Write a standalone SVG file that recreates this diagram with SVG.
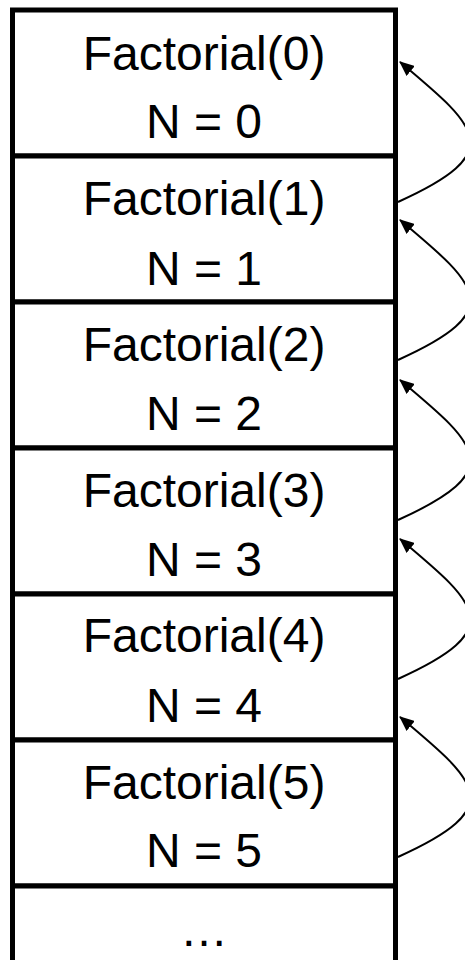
<svg xmlns="http://www.w3.org/2000/svg" width="465" height="960" viewBox="0 0 465 960">
<style>
.box{fill:#fff;stroke:#000;stroke-width:5}
.t{font-family:"Liberation Sans",Arial,sans-serif;font-size:48px;fill:#000;text-anchor:middle}
.c{fill:none;stroke:#000;stroke-width:2}
</style>
<defs>
<marker id="ah" markerUnits="userSpaceOnUse" markerWidth="15" markerHeight="13" viewBox="0 0 15 13" refX="14" refY="6.5" orient="auto">
<path d="M0,0 L15,6.5 L0,13 Z" fill="#000"/>
</marker>
</defs>
<g id="frame0"><rect class="box" x="12.5" y="10" width="383" height="146"/><text class="t" x="204" y="70">Factorial(0)</text><text class="t" x="204" y="138">N = 0</text></g>
<g id="frame1"><rect class="box" x="12.5" y="156" width="383" height="146"/><text class="t" x="204" y="215">Factorial(1)</text><text class="t" x="204" y="285">N = 1</text></g>
<g id="frame2"><rect class="box" x="12.5" y="302" width="383" height="146"/><text class="t" x="204" y="361">Factorial(2)</text><text class="t" x="204" y="430">N = 2</text></g>
<g id="frame3"><rect class="box" x="12.5" y="448" width="383" height="146"/><text class="t" x="204" y="506.5">Factorial(3)</text><text class="t" x="204" y="576">N = 3</text></g>
<g id="frame4"><rect class="box" x="12.5" y="594" width="383" height="146"/><text class="t" x="204" y="652">Factorial(4)</text><text class="t" x="204" y="722">N = 4</text></g>
<g id="frame5"><rect class="box" x="12.5" y="740" width="383" height="146"/><text class="t" x="204" y="798.5">Factorial(5)</text><text class="t" x="204" y="867">N = 5</text></g>
<g id="frameMore"><rect class="box" x="12.5" y="886" width="383" height="146"/><text class="t" x="204" y="946">…</text></g>
<g id="connectors">
<path class="c" marker-end="url(#ah)" d="M398,202 C509,152 478,127.5 400,62"/>
<path class="c" marker-end="url(#ah)" d="M398,360 C509,310 478,285.5 400,220"/>
<path class="c" marker-end="url(#ah)" d="M398,520 C509,470 478,445.5 400,380"/>
<path class="c" marker-end="url(#ah)" d="M398,679 C509,629 478,604.5 400,539"/>
<path class="c" marker-end="url(#ah)" d="M398,857 C509,807 478,782.5 400,717"/>
</g>
</svg>
